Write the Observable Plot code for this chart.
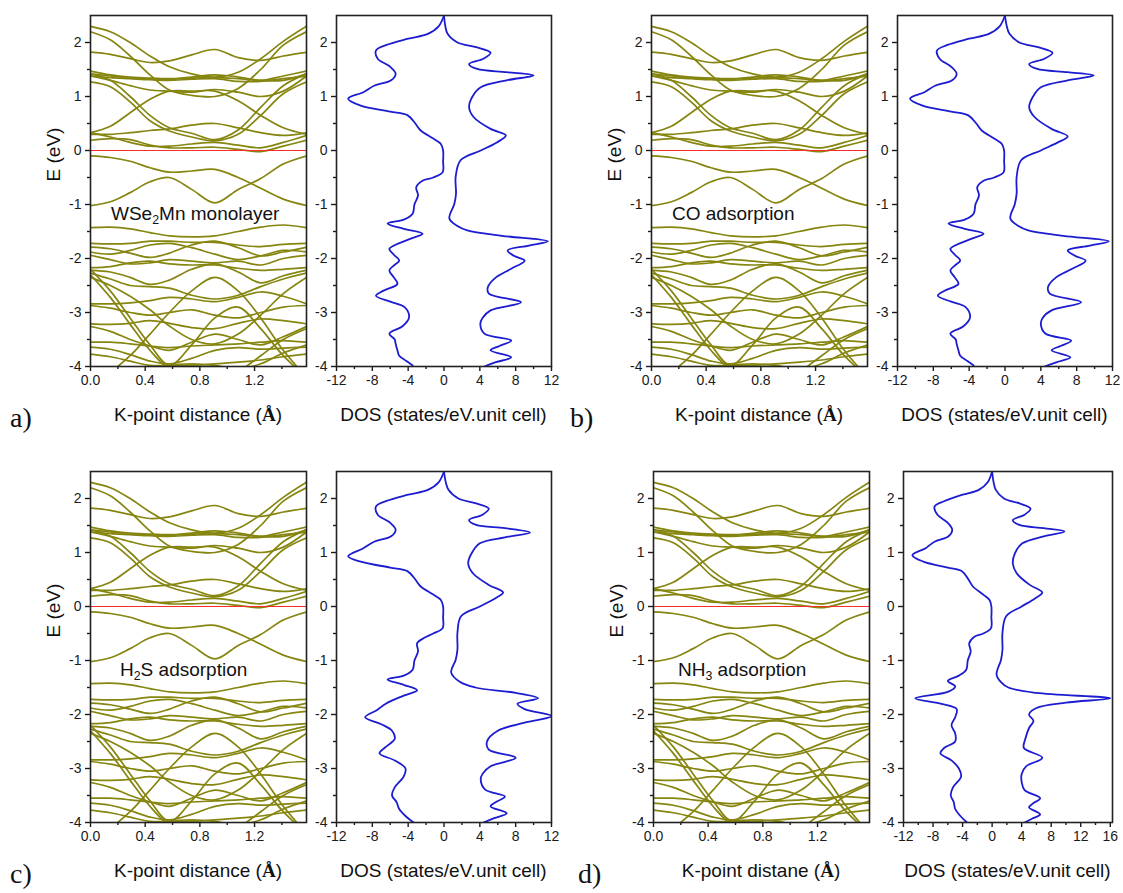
<!DOCTYPE html>
<html><head><meta charset="utf-8">
<script src="https://cdn.jsdelivr.net/npm/d3@7"></script>
<script src="https://cdn.jsdelivr.net/npm/@observablehq/plot@0.6"></script>
<style>
body{margin:0;background:#fff;}
#wrap{position:relative;width:1123px;height:893px;overflow:hidden;font-family:"Liberation Sans",Arial,sans-serif;color:#111;}
#wrap svg{position:absolute;overflow:visible;}
.t{position:absolute;font-size:19px;line-height:1;white-space:nowrap;}
.c{transform:translateX(-50%);}
.lab{position:absolute;font-family:"Liberation Serif","Times New Roman",serif;font-size:28px;line-height:1;}
sub{font-size:0.65em;vertical-align:-0.3em;line-height:0;}
.ang{font-family:"Liberation Serif","Times New Roman",serif;font-weight:bold;}
</style></head><body><div id="wrap"></div>
<script>
// ---------- data ----------
const kPts = [0, 0.145, 0.29, 0.435, 0.577, 0.74, 0.91, 1.08, 1.245, 1.41, 1.58];
const kMajor = [0, 0.4, 0.8, 1.2];
const kMinor = [0.2, 0.6, 1.0, 1.4];
const eMajor = [-4, -3, -2, -1, 0, 1, 2];
const eMinor = [-3.5, -2.5, -1.5, -0.5, 0.5, 1.5];
const dosMajor = [-12, -8, -4, 0, 4, 8, 12];
const dosMinor = [-10, -6, -2, 2, 6, 10];
const dosMajorD = [-12, -8, -4, 0, 4, 8, 12, 16];
const dosMinorD = [-10, -6, -2, 2, 6, 10, 14];

const condBands = [
  [2.30, 2.20, 2.00, 1.75, 1.55, 1.42, 1.36, 1.45, 1.70, 2.02, 2.30],
  [2.20, 2.05, 1.75, 1.40, 1.12, 1.02, 1.00, 1.15, 1.50, 1.95, 2.20],
  [1.82, 1.78, 1.70, 1.63, 1.66, 1.77, 1.87, 1.72, 1.67, 1.75, 1.82],
  [1.47, 1.40, 1.36, 1.34, 1.33, 1.34, 1.35, 1.33, 1.30, 1.38, 1.47],
  [1.42, 1.38, 1.34, 1.32, 1.32, 1.36, 1.40, 1.36, 1.30, 1.30, 1.42],
  [1.38, 1.35, 1.33, 1.31, 1.30, 1.32, 1.33, 1.28, 1.28, 1.33, 1.38],
  [1.27, 1.18, 0.90, 0.55, 0.36, 0.25, 0.18, 0.30, 0.65, 1.05, 1.27],
  [1.42, 1.30, 1.00, 0.65, 0.42, 0.32, 0.20, 0.38, 0.80, 1.20, 1.42],
  [0.33, 0.45, 0.70, 0.95, 1.10, 1.10, 1.10, 0.92, 0.65, 0.42, 0.30],
  [0.30, 0.30, 0.33, 0.37, 0.40, 0.47, 0.50, 0.42, 0.33, 0.28, 0.33],
  [0.19, 0.22, 0.20, 0.10, 0.05, 0.05, 0.06, 0.02, -0.02, 0.08, 0.19],
  [0.33, 0.25, 0.15, 0.08, 0.08, 0.12, 0.15, 0.10, 0.05, 0.15, 0.28],
  [1.38, 1.30, 1.20, 1.12, 1.10, 1.08, 1.13, 1.08, 1.00, 1.10, 1.38]
];
const valBandsUpper = [
  [-0.10, -0.13, -0.20, -0.32, -0.40, -0.38, -0.35, -0.50, -0.70, -0.90, -1.02],
  [-1.02, -0.95, -0.78, -0.58, -0.50, -0.72, -0.97, -0.72, -0.52, -0.25, -0.10]
];
const valBandsLower = [
  [-1.43, -1.42, -1.45, -1.52, -1.58, -1.60, -1.58, -1.50, -1.42, -1.38, -1.43],
  [-1.72, -1.73, -1.72, -1.68, -1.68, -1.70, -1.70, -1.75, -1.78, -1.74, -1.72],
  [-1.79, -1.82, -1.90, -1.98, -1.90, -1.75, -1.68, -1.80, -1.95, -1.88, -1.79],
  [-1.88, -1.92, -1.85, -1.75, -1.72, -1.80, -1.92, -2.02, -1.95, -1.85, -1.88],
  [-1.94, -2.02, -2.10, -2.08, -2.02, -2.05, -2.08, -2.05, -2.12, -2.00, -1.94],
  [-2.17, -2.15, -2.08, -2.05, -2.10, -2.12, -2.12, -2.18, -2.22, -2.20, -2.17],
  [-2.22, -2.25, -2.35, -2.48, -2.40, -2.20, -2.10, -2.25, -2.45, -2.32, -2.22],
  [-2.27, -2.38, -2.50, -2.52, -2.55, -2.68, -2.75, -2.68, -2.52, -2.38, -2.27],
  [-2.35, -2.50, -2.70, -2.95, -3.25, -3.50, -3.58, -3.40, -3.05, -2.65, -2.35],
  [-2.84, -2.84, -2.82, -2.78, -2.72, -2.75, -2.80, -2.72, -2.62, -2.70, -2.84],
  [-2.87, -2.92, -3.00, -3.05, -3.00, -2.95, -3.05, -3.10, -3.00, -2.90, -2.87],
  [-3.21, -3.22, -3.20, -3.15, -3.20, -3.28, -3.30, -3.20, -3.12, -3.15, -3.21],
  [-3.26, -3.35, -3.50, -3.62, -3.70, -3.55, -3.40, -3.50, -3.60, -3.45, -3.26],
  [-3.55, -3.55, -3.58, -3.62, -3.65, -3.62, -3.60, -3.58, -3.55, -3.52, -3.55],
  [-3.64, -3.68, -3.78, -3.90, -3.95, -3.85, -3.70, -3.65, -3.68, -3.66, -3.64],
  [-3.77, -3.82, -3.90, -3.98, -3.98, -3.98, -3.95, -3.92, -3.88, -3.82, -3.77],
  [-2.20, -2.60, -3.10, -3.60, -3.98, -3.60, -3.10, -2.90, -3.30, -3.80, -4.20],
  [-2.30, -2.72, -3.22, -3.70, -4.05, -4.20, -4.30, -4.10, -3.80, -3.50, -3.30],
  [-4.30, -4.10, -3.80, -3.40, -3.00, -2.60, -2.35, -2.60, -3.10, -3.70, -4.20],
  [-4.20, -4.30, -4.25, -4.10, -3.98, -3.95, -3.98, -4.05, -3.95, -3.75, -3.60]
];

// DOS [E, states] pairs
const aUp = [[2.5,0],[2.3,0.15],[2.16,0.4],[2.0,1.5],[1.91,3.7],[1.81,5.2],[1.70,4.4],[1.60,2.8],[1.51,3.7],[1.45,7.0],[1.39,10.0],[1.30,7.0],[1.17,4.1],[0.99,3.15],[0.80,2.8],[0.62,3.3],[0.40,5.2],[0.28,6.9],[0.15,5.9],[0.0,4.1],[-0.18,1.85],[-0.49,1.3],[-0.80,1.34],[-0.99,1.15],[-1.26,0.6],[-1.40,1.5],[-1.48,2.6],[-1.58,6.5],[-1.68,11.6],[-1.76,9.5],[-1.85,7.1],[-1.95,7.8],[-2.04,9.0],[-2.19,7.5],[-2.35,5.8],[-2.53,4.9],[-2.65,5.0],[-2.81,8.6],[-2.96,5.2],[-3.10,4.3],[-3.21,4.05],[-3.39,4.5],[-3.52,7.5],[-3.62,6.2],[-3.70,5.2],[-3.83,7.5],[-3.92,5.8],[-4.0,4.5]];
const aDown = [[2.5,0],[2.3,-0.6],[2.16,-1.8],[2.07,-4.0],[1.95,-6.5],[1.85,-7.6],[1.70,-7.4],[1.55,-6.0],[1.42,-5.4],[1.30,-5.9],[1.20,-7.8],[1.08,-9.0],[0.96,-10.7],[0.83,-9.3],[0.72,-6.0],[0.65,-4.05],[0.50,-3.2],[0.37,-2.6],[0.22,-1.2],[0.12,-0.35],[0.0,-0.1],[-0.2,-0.1],[-0.4,-0.15],[-0.50,-1.2],[-0.56,-2.4],[-0.68,-3.1],[-0.83,-2.9],[-1.0,-3.3],[-1.17,-3.5],[-1.28,-4.5],[-1.35,-6.3],[-1.45,-4.5],[-1.54,-2.4],[-1.65,-4.0],[-1.82,-6.1],[-1.93,-5.6],[-2.04,-5.0],[-2.13,-5.6],[-2.22,-6.1],[-2.35,-5.6],[-2.47,-5.2],[-2.60,-6.8],[-2.69,-7.6],[-2.80,-6.0],[-2.90,-4.4],[-3.09,-3.9],[-3.25,-4.6],[-3.39,-6.1],[-3.50,-5.5],[-3.58,-5.4],[-3.70,-5.2],[-3.80,-5.0],[-3.90,-4.2],[-3.98,-3.5]];
const bUp = [[2.5,0],[2.3,0.2],[2.16,0.5],[2.0,1.6],[1.91,3.8],[1.81,5.3],[1.70,4.4],[1.60,2.7],[1.51,3.6],[1.45,7.0],[1.39,9.9],[1.30,7.0],[1.17,4.0],[0.99,3.1],[0.80,2.7],[0.62,3.3],[0.40,5.2],[0.26,7.0],[0.15,5.9],[0.0,4.0],[-0.18,1.8],[-0.49,1.3],[-0.8,1.3],[-0.99,1.1],[-1.26,0.6],[-1.40,1.5],[-1.48,2.6],[-1.58,6.5],[-1.68,11.6],[-1.76,9.5],[-1.85,7.0],[-1.95,7.8],[-2.04,9.0],[-2.19,7.5],[-2.35,5.7],[-2.53,4.8],[-2.65,5.0],[-2.81,8.5],[-2.96,5.2],[-3.1,4.2],[-3.21,4.0],[-3.39,4.5],[-3.52,7.4],[-3.62,6.2],[-3.70,5.2],[-3.83,7.3],[-3.92,5.8],[-4.0,4.4]];
const bDown = [[2.5,0],[2.3,-0.6],[2.16,-1.8],[2.07,-4.0],[1.95,-6.5],[1.85,-7.6],[1.70,-7.3],[1.55,-6.0],[1.42,-5.4],[1.30,-5.9],[1.20,-7.8],[1.08,-9.0],[0.96,-10.6],[0.83,-9.2],[0.72,-6.0],[0.65,-4.1],[0.50,-3.2],[0.37,-2.6],[0.22,-1.2],[0.12,-0.35],[0.0,-0.1],[-0.2,-0.1],[-0.4,-0.15],[-0.50,-1.2],[-0.56,-2.4],[-0.68,-3.1],[-0.83,-2.9],[-1.0,-3.3],[-1.17,-3.5],[-1.28,-4.5],[-1.35,-6.3],[-1.45,-4.5],[-1.54,-2.4],[-1.65,-4.0],[-1.82,-6.1],[-1.93,-5.6],[-2.04,-5.0],[-2.13,-5.6],[-2.22,-6.1],[-2.35,-5.6],[-2.47,-5.2],[-2.60,-6.8],[-2.69,-7.5],[-2.80,-6.0],[-2.90,-4.4],[-3.09,-3.9],[-3.25,-4.6],[-3.39,-6.1],[-3.50,-5.5],[-3.58,-5.4],[-3.70,-5.2],[-3.80,-5.0],[-3.90,-4.2],[-3.98,-3.5]];
const cUp = [[2.5,0],[2.3,0.2],[2.16,0.5],[2.0,1.6],[1.91,3.6],[1.81,5.0],[1.70,4.3],[1.60,2.8],[1.51,3.6],[1.45,6.8],[1.37,9.6],[1.28,6.8],[1.17,4.0],[0.99,3.1],[0.80,2.7],[0.62,3.2],[0.40,5.0],[0.26,6.6],[0.15,5.7],[0.0,4.0],[-0.18,1.9],[-0.49,1.5],[-0.8,1.5],[-0.99,1.3],[-1.22,0.8],[-1.40,1.8],[-1.50,3.5],[-1.60,8.0],[-1.70,10.5],[-1.80,8.2],[-1.90,9.0],[-2.03,12.0],[-2.15,9.0],[-2.30,6.0],[-2.50,4.8],[-2.65,5.0],[-2.80,8.0],[-2.96,5.2],[-3.1,4.3],[-3.21,4.1],[-3.39,4.6],[-3.52,6.8],[-3.62,5.8],[-3.70,5.2],[-3.83,7.0],[-3.92,5.6],[-4.0,4.4]];
const cDown = [[2.5,0],[2.3,-0.6],[2.16,-1.8],[2.07,-4.0],[1.95,-6.5],[1.85,-7.6],[1.70,-7.4],[1.55,-6.0],[1.42,-5.4],[1.30,-5.9],[1.20,-7.8],[1.08,-9.0],[0.93,-10.7],[0.83,-9.3],[0.72,-6.0],[0.65,-4.05],[0.50,-3.2],[0.37,-2.6],[0.22,-1.2],[0.12,-0.35],[0.0,-0.1],[-0.2,-0.1],[-0.4,-0.15],[-0.50,-1.2],[-0.58,-2.2],[-0.68,-3.0],[-0.83,-2.9],[-1.0,-3.3],[-1.17,-3.5],[-1.28,-4.5],[-1.35,-6.3],[-1.45,-4.5],[-1.55,-3.0],[-1.65,-4.5],[-1.80,-6.5],[-1.92,-7.5],[-2.05,-8.8],[-2.18,-7.0],[-2.30,-5.8],[-2.45,-5.5],[-2.60,-6.5],[-2.72,-7.2],[-2.85,-5.5],[-3.0,-4.3],[-3.15,-4.5],[-3.35,-5.5],[-3.50,-5.8],[-3.62,-5.3],[-3.75,-5.0],[-3.88,-4.3],[-4.0,-3.4]];
const dUp = [[2.5,0],[2.3,0.2],[2.16,0.5],[2.0,1.6],[1.91,3.7],[1.81,5.2],[1.70,4.4],[1.60,2.8],[1.51,3.7],[1.45,7.0],[1.39,9.8],[1.30,7.0],[1.17,4.1],[0.99,3.1],[0.80,2.8],[0.62,3.3],[0.40,5.1],[0.26,6.8],[0.15,5.8],[0.0,4.0],[-0.18,1.9],[-0.49,1.4],[-0.8,1.4],[-0.99,1.2],[-1.26,0.6],[-1.40,1.2],[-1.50,2.2],[-1.60,6.0],[-1.70,16.0],[-1.78,10.0],[-1.88,6.0],[-2.0,5.0],[-2.12,5.6],[-2.25,5.0],[-2.45,4.5],[-2.62,4.3],[-2.80,6.8],[-2.96,4.6],[-3.1,4.0],[-3.25,4.0],[-3.40,4.4],[-3.55,6.5],[-3.65,5.5],[-3.72,5.0],[-3.85,6.5],[-3.93,5.4],[-4.0,4.4]];
const dDown = [[2.5,0],[2.3,-0.6],[2.16,-1.8],[2.07,-4.0],[1.95,-6.5],[1.85,-7.8],[1.70,-7.4],[1.55,-6.0],[1.42,-5.4],[1.30,-5.9],[1.20,-7.8],[1.08,-9.0],[0.95,-10.8],[0.83,-9.3],[0.72,-6.0],[0.65,-4.05],[0.50,-3.2],[0.37,-2.6],[0.22,-1.2],[0.12,-0.35],[0.0,-0.1],[-0.2,-0.1],[-0.4,-0.15],[-0.50,-1.2],[-0.56,-2.4],[-0.68,-3.1],[-0.83,-2.9],[-1.0,-3.3],[-1.17,-3.5],[-1.28,-4.5],[-1.38,-6.0],[-1.48,-5.0],[-1.58,-6.0],[-1.70,-10.4],[-1.80,-7.0],[-1.90,-4.8],[-2.05,-5.0],[-2.2,-5.5],[-2.35,-5.0],[-2.5,-5.0],[-2.62,-6.5],[-2.72,-7.0],[-2.85,-5.5],[-3.0,-4.5],[-3.15,-4.2],[-3.35,-5.3],[-3.5,-5.6],[-3.62,-5.2],[-3.75,-5.0],[-3.88,-4.3],[-4.0,-3.4]];

const panelLabels = ["a)", "b)", "c)", "d)"];
const insetLabels = ["WSe<sub>2</sub>Mn monolayer", "CO adsorption", "H<sub>2</sub>S adsorption", "NH<sub>3</sub> adsorption"];
const kTitles = ["K-point distance", "K-point distance", "K-point distance", "K-point distane"];
const dosTitle = "DOS (states/eV.unit cell)";
const eTitle = "E (eV)";

// ---------- drawing ----------
const wrap = document.getElementById("wrap");
const bandRows = [...condBands, ...valBandsUpper, ...valBandsLower]
  .flatMap((b, i) => b.map((E, j) => ({band: i, k: kPts[j], E})));

const M = {l: 44, t: 8, r: 8, b: 34};
const FW = 216, FH = 351;
const axisStyle = {fontFamily: "'Liberation Sans', Arial, sans-serif", fontSize: "14px", color: "#1a1a1a", background: "transparent", overflow: "visible"};

function place(svg, fx, fy) {
  svg.style.left = (fx - M.l) + "px";
  svg.style.top = (fy - M.t) + "px";
  wrap.appendChild(svg);
}

function bandPlot(fx, fy) {
  const svg = Plot.plot({
    width: FW + M.l + M.r, height: FH + M.t + M.b,
    marginLeft: M.l, marginTop: M.t, marginRight: M.r, marginBottom: M.b,
    x: {domain: [0, 1.58], label: null},
    y: {domain: [-4, 2.5], label: null},
    style: axisStyle,
    marks: [
      Plot.line(bandRows, {x: "k", y: "E", z: "band", stroke: "#85850f", strokeWidth: 1.7, curve: "catmull-rom", clip: true}),
      Plot.ruleY([0], {stroke: "#ff2a2a", strokeWidth: 1.1}),
      Plot.axisX(kMajor, {tickSize: 5, tickPadding: 4, strokeWidth: 1.4, tickFormat: d3.format(".1f"), label: null}),
      Plot.axisX(kMinor, {tickSize: 3, strokeWidth: 1.4, tickFormat: () => "", label: null}),
      Plot.axisY(eMajor, {tickSize: 5, tickPadding: 4, strokeWidth: 1.4, tickFormat: d => String(d), label: null}),
      Plot.axisY(eMinor, {tickSize: 3, strokeWidth: 1.4, tickFormat: () => "", label: null}),
      Plot.frame({stroke: "#222", strokeWidth: 1.6})
    ]
  });
  place(svg, fx, fy);
}

function dosPlot(fx, fy, fw, up, down, domain, major, minor) {
  const rows = [...up.map(([E, s]) => ({spin: "up", E, s})), ...down.map(([E, s]) => ({spin: "down", E, s}))];
  const svg = Plot.plot({
    width: fw + M.l + M.r, height: FH + M.t + M.b,
    marginLeft: M.l, marginTop: M.t, marginRight: M.r, marginBottom: M.b,
    x: {domain, label: null},
    y: {domain: [-4, 2.5], label: null},
    style: axisStyle,
    marks: [
      Plot.line(rows, {x: "s", y: "E", z: "spin", stroke: "#1c1cd0", strokeWidth: 1.8, curve: "catmull-rom", clip: true}),
      Plot.axisX(major, {tickSize: 5, tickPadding: 4, strokeWidth: 1.4, tickFormat: d => String(d), label: null}),
      Plot.axisX(minor, {tickSize: 3, strokeWidth: 1.4, tickFormat: () => "", label: null}),
      Plot.axisY(eMajor, {tickSize: 5, tickPadding: 4, strokeWidth: 1.4, tickFormat: d => String(d), label: null}),
      Plot.axisY(eMinor, {tickSize: 3, strokeWidth: 1.4, tickFormat: () => "", label: null}),
      Plot.frame({stroke: "#222", strokeWidth: 1.6})
    ]
  });
  place(svg, fx, fy);
}

function text(html, x, baseline, cls, size) {
  const d = document.createElement("div");
  d.className = cls;
  d.innerHTML = html;
  d.style.left = x + "px";
  d.style.top = (baseline - 0.85 * size) + "px";
  wrap.appendChild(d);
  return d;
}

const layout = [
  {bx: 90, dx: 336, dw: 215, y: 15, up: aUp, down: aDown, dom: [-12, 12], maj: dosMajor, min: dosMinor, lx: 10, ix: 111},
  {bx: 651, dx: 897, dw: 215, y: 15, up: bUp, down: bDown, dom: [-12, 12], maj: dosMajor, min: dosMinor, lx: 570, ix: 672},
  {bx: 90, dx: 336, dw: 215, y: 471, up: cUp, down: cDown, dom: [-12, 12], maj: dosMajor, min: dosMinor, lx: 10, ix: 120},
  {bx: 653, dx: 903, dw: 209, y: 471, up: dUp, down: dDown, dom: [-12, 16.3], maj: dosMajorD, min: dosMinorD, lx: 578, ix: 678}
];

layout.forEach((p, i) => {
  bandPlot(p.bx, p.y);
  dosPlot(p.dx, p.y, p.dw, p.up, p.down, p.dom, p.maj, p.min);
  text(insetLabels[i], p.ix, p.y + 205, "t", 19);
  text(kTitles[i] + " (<span class='ang'>Å</span>)", p.bx + FW / 2, p.y + 406, "t c", 19);
  text(dosTitle, p.dx + p.dw / 2, p.y + 406, "t c", 19);
  const e = text(eTitle, p.bx - 37, p.y + 140, "t", 19);
  e.style.top = (p.y + 140 - 10) + "px";
  e.style.transform = "translate(-50%, 0) rotate(-90deg)";
  e.style.transformOrigin = "50% 50%";
  text(panelLabels[i], p.lx, p.y + 413, "lab", 28);
});
</script></body></html>
